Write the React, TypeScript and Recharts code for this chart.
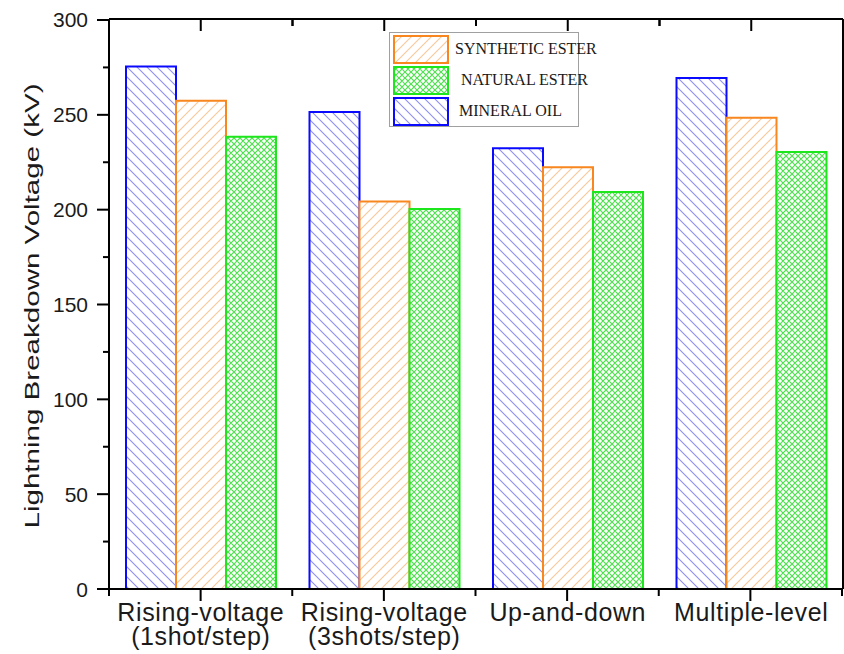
import React from 'react';
import { BarChart, Bar, XAxis, YAxis } from 'recharts';

const categories = ['Rising-voltage (1shot/step)', 'Rising-voltage (3shots/step)', 'Up-and-down', 'Multiple-level'];
const tickLabelLines = [
  ['Rising-voltage', '(1shot/step)'],
  ['Rising-voltage', '(3shots/step)'],
  ['Up-and-down'],
  ['Multiple-level'],
];
const mineralOil = [275, 251, 232, 269];
const syntheticEster = [257, 204, 222, 248];
const naturalEster = [238, 200, 209, 230];
const yTicks = [0, 50, 100, 150, 200, 250, 300];
const yMinorTicks = [25, 75, 125, 175, 225, 275];
const allYTicks = [...yTicks, ...yMinorTicks].sort((a, b) => a - b);
const seriesNames = { synthetic: 'SYNTHETIC ESTER', natural: 'NATURAL ESTER', mineral: 'MINERAL OIL' };

const data = categories.map((c, i) => ({
  name: c,
  mineral: mineralOil[i],
  synthetic: syntheticEster[i],
  natural: naturalEster[i],
}));

const BLUE = '#0a0aff';
const ORANGE = '#f7871e';
const GREEN = '#1de61d';
const SANS = '"Liberation Sans", Arial, sans-serif';
const SERIF = '"Liberation Serif", "Times New Roman", serif';
const MAJOR = 12;
const MINOR = 7;
const TICK_COLOR = '#000';
const Y_MIN = yTicks[0];
const Y_MAX = yTicks[yTicks.length - 1];

// chart layout (pixels)
const CHART_W = 844;
const CHART_H = 654;
const M_TOP = 19;
const M_RIGHT = 1;
const LEFT_W = 109;
const BOTTOM_H = 65;
const PLOT_LEFT = LEFT_W;
const PLOT_TOP = M_TOP + 1;
const PLOT_W = CHART_W - LEFT_W - M_RIGHT - 1;
const PLOT_H = CHART_H - PLOT_TOP - BOTTOM_H;

const Patterns = ({ suffix = '' }: { suffix?: string }) => (
  <defs>
    <pattern id={'pBlue' + suffix} patternUnits="userSpaceOnUse" width="10" height="10">
      <rect width="10" height="10" fill="#fff" />
      <path d="M0,0 L10,10 M-5,5 L5,15 M5,-5 L15,5" stroke="#8f8ff2" strokeWidth="1.1" />
    </pattern>
    <pattern id={'pOrange' + suffix} patternUnits="userSpaceOnUse" width="10" height="10">
      <rect width="10" height="10" fill="#fff" />
      <path d="M0,10 L10,0 M-5,5 L5,-5 M5,15 L15,5" stroke="#f8c898" strokeWidth="1.1" />
    </pattern>
    <pattern id={'pGreen' + suffix} patternUnits="userSpaceOnUse" width="6" height="6">
      <rect width="6" height="6" fill="#fff" />
      <path d="M0,0 L6,6 M-3,3 L3,9 M3,-3 L9,3 M0,6 L6,0 M-3,3 L3,-3 M3,9 L9,3" stroke="#4fe04f" strokeWidth="1.2" />
    </pattern>
  </defs>
);

const half = (payload: any) => (payload && typeof payload.offset === 'number' && payload.offset > 0 ? payload.offset : PLOT_W / (2 * categories.length));

const VTick = ({ x, y1, y2 }: any) => <rect x={x - 1} y={Math.min(y1, y2)} width={2} height={Math.abs(y2 - y1)} fill={TICK_COLOR} />;
const HTick = ({ y, x1, x2 }: any) => <rect x={Math.min(x1, x2)} y={y - 1} width={Math.abs(x2 - x1)} height={2} fill={TICK_COLOR} />;

// bottom axis: labels
const BottomTick = (props: any) => {
  const { x, y, payload } = props;
  const idx = categories.indexOf(payload.value);
  const lines = tickLabelLines[idx] || [payload.value];
  return (
    <text x={x} y={y + 32} textAnchor="middle" fontSize={25} letterSpacing={0.6} fontFamily={SANS} fill="#1a1a1a">
      {lines.map((l, i) => (
        <tspan key={i} x={x} dy={i === 0 ? 0 : 24}>{l}</tspan>
      ))}
    </text>
  );
};

// top axis: inward ticks
const TopTick = (props: any) => {
  const { x, y, payload } = props;
  const h = half(payload);
  return (
    <g>
      <VTick x={x} y1={y} y2={y + MAJOR} />
      <VTick x={x - h} y1={y} y2={y + MINOR} />
      <VTick x={x + h} y1={y} y2={y + MINOR} />
    </g>
  );
};

// left axis: labels
const LeftTick = (props: any) => {
  const { x, y, payload } = props;
  if (!yTicks.includes(payload.value)) return <g />;
  return (
    <text x={x - 21} y={y} dy="0.36em" textAnchor="end" fontSize={21} fontFamily={SANS} fill="#1a1a1a">
      {payload.value}
    </text>
  );
};

// right axis: inward ticks
const RightTick = (props: any) => {
  const { x, y, payload } = props;
  const major = yTicks.includes(payload.value);
  const len = major ? MAJOR : MINOR - 1;
  return <HTick y={y} x1={x - len} x2={x} />;
};

// outward ticks on the left and bottom frame
const OuterTicks = () => {
  const yPos = (v: number) => PLOT_TOP + PLOT_H * (1 - (v - Y_MIN) / (Y_MAX - Y_MIN));
  const band = PLOT_W / categories.length;
  const yb = PLOT_TOP + PLOT_H;
  return (
    <svg
      width={CHART_W}
      height={CHART_H}
      style={{ position: 'absolute', left: 0, top: 0, pointerEvents: 'none' }}
    >
      {allYTicks.map((v) => {
        const len = yTicks.includes(v) ? MAJOR : MINOR - 1;
        return <HTick key={'l' + v} y={yPos(v)} x1={PLOT_LEFT - len} x2={PLOT_LEFT} />;
      })}
      {categories.map((c, i) => (
        <VTick key={'c' + i} x={PLOT_LEFT + band * (i + 0.5)} y1={yb} y2={yb + MAJOR} />
      ))}
      {[...categories, ''].map((c, i) => (
        <VTick key={'b' + i} x={PLOT_LEFT + band * i} y1={yb} y2={yb + MINOR} />
      ))}
    </svg>
  );
};

const YLabel = (props: any) => {
  const vb = props.viewBox || {};
  const cy = (vb.y ?? PLOT_TOP) + (vb.height ?? PLOT_H) / 2 + 2;
  return (
    <text
      transform={`translate(39, ${cy}) rotate(-90)`}
      textAnchor="middle"
      fontSize={20}
      textLength={445}
      lengthAdjust="spacingAndGlyphs"
      fontFamily={SANS}
      fill="#1a1a1a"
    >
      Lightning Breakdown Voltage (kV)
    </text>
  );
};

const legendItems = [
  { key: 'synthetic', fill: 'url(#pOrangeL)', stroke: ORANGE, textLeft: 65 },
  { key: 'natural', fill: 'url(#pGreenL)', stroke: GREEN, textLeft: 71 },
  { key: 'mineral', fill: 'url(#pBlueL)', stroke: BLUE, textLeft: 69 },
];

const LegendBox = () => (
  <div
    style={{
      position: 'absolute',
      left: 389,
      top: 32,
      width: 190,
      height: 95,
      border: '1px solid #a0a0a0',
      boxSizing: 'border-box',
      background: '#fff',
    }}
  >
    <svg width={0} height={0} style={{ position: 'absolute' }}>
      <Patterns suffix="L" />
    </svg>
    {legendItems.map((it, i) => (
      <div key={it.key} style={{ position: 'absolute', left: 0, top: 2 + i * 31, height: 29, width: 190 }}>
        <svg width={56} height={29} style={{ position: 'absolute', left: 3, top: 0 }}>
          <rect x={1} y={1} width={54} height={27} fill={it.fill} stroke={it.stroke} strokeWidth={2} />
        </svg>
        <span
          style={{
            position: 'absolute',
            left: it.textLeft,
            top: 5,
            fontFamily: SERIF,
            fontSize: 16,
            color: '#1a1a1a',
            whiteSpace: 'nowrap',
            lineHeight: '18px',
          }}
        >
          {(seriesNames as any)[it.key]}
        </span>
      </div>
    ))}
  </div>
);

const axisLine = { stroke: '#000', strokeWidth: 2 };

export default function App() {
  return (
    <div style={{ position: 'absolute', left: 0, top: 0, width: CHART_W, height: CHART_H, background: '#fff' }}>
      <BarChart
        width={CHART_W}
        height={CHART_H}
        data={data}
        margin={{ top: M_TOP, right: M_RIGHT, bottom: 0, left: 0 }}
        barCategoryGap={17}
        barGap={0}
      >
        <Patterns />
        <XAxis
          xAxisId="main"
          dataKey="name"
          height={BOTTOM_H}
          tickSize={0}
          tickMargin={0}
          tickLine={false}
          tick={<BottomTick />}
          interval={0}
          axisLine={axisLine}
        />
        <XAxis
          xAxisId="top"
          orientation="top"
          dataKey="name"
          height={1}
          mirror
          interval={0}
          tickSize={0}
          tickMargin={0}
          tickLine={false}
          tick={<TopTick />}
          axisLine={axisLine}
        />
        <YAxis
          yAxisId="main"
          domain={[Y_MIN, Y_MAX]}
          ticks={allYTicks}
          interval={0}
          width={LEFT_W}
          tickSize={0}
          tickMargin={0}
          tickLine={false}
          tick={<LeftTick />}
          label={<YLabel />}
          axisLine={axisLine}
        />
        <YAxis
          yAxisId="right"
          orientation="right"
          domain={[Y_MIN, Y_MAX]}
          ticks={allYTicks}
          interval={0}
          width={1}
          mirror
          tickSize={0}
          tickMargin={0}
          tickLine={false}
          tick={<RightTick />}
          axisLine={axisLine}
        />
        <Bar xAxisId="main" yAxisId="main" dataKey="mineral" name={seriesNames.mineral} fill="url(#pBlue)" stroke={BLUE} strokeWidth={2} isAnimationActive={false} />
        <Bar xAxisId="main" yAxisId="main" dataKey="synthetic" name={seriesNames.synthetic} fill="url(#pOrange)" stroke={ORANGE} strokeWidth={2} isAnimationActive={false} />
        <Bar xAxisId="main" yAxisId="main" dataKey="natural" name={seriesNames.natural} fill="url(#pGreen)" stroke={GREEN} strokeWidth={2} isAnimationActive={false} />
      </BarChart>
      <OuterTicks />
      <LegendBox />
    </div>
  );
}
